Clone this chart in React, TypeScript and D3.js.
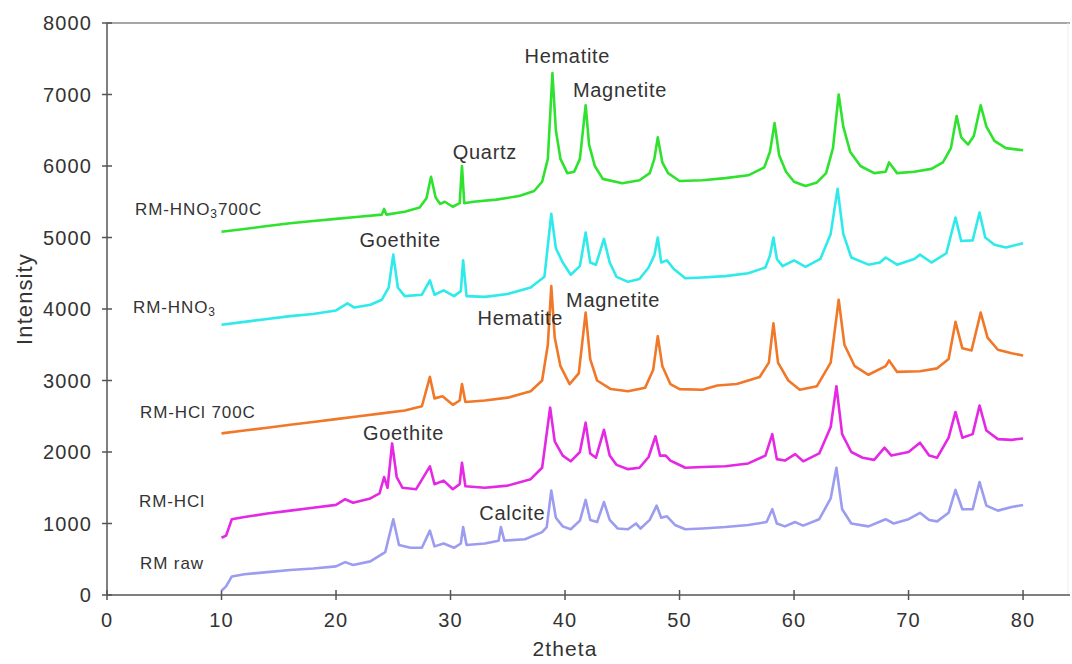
import React from 'react';
import * as d3 from 'd3';

// XRD patterns, [2theta, intensity]
const rmHno3700: [number, number][] = [
  [10,5080],[12,5120],[14,5160],[16,5200],[18,5230],[20,5260],[22,5290],[24,5320],[24.2,5400],[24.4,5320],
  [26,5360],[27.3,5420],[27.9,5550],[28.3,5850],[28.7,5560],[29.1,5470],[29.5,5500],[30.2,5430],[30.8,5480],
  [31.0,6000],[31.2,5480],[32,5500],[34,5530],[36,5580],[37.3,5650],[38.0,5780],[38.5,6100],[38.9,7300],
  [39.2,6500],[39.6,6100],[40.2,5900],[40.8,5920],[41.3,6100],[41.8,6850],[42.1,6300],[42.6,6000],[43.3,5820],
  [45,5760],[46.5,5800],[47.4,5900],[47.8,6100],[48.1,6400],[48.5,6050],[49,5900],[50,5790],[52,5800],
  [54,5830],[56,5870],[57.4,5980],[57.9,6200],[58.3,6600],[58.7,6150],[59.3,5920],[60,5780],[61,5720],
  [62,5770],[62.8,5900],[63.4,6250],[63.9,7000],[64.3,6550],[64.9,6200],[65.8,6000],[67,5900],[68,5920],
  [68.3,6050],[69,5900],[70.5,5920],[72,5960],[73,6050],[73.7,6250],[74.2,6700],[74.6,6400],[75.2,6300],
  [75.7,6420],[76.3,6850],[76.8,6550],[77.5,6350],[78.5,6250],[80,6220]
];
const rmHno3: [number, number][] = [
  [10,3780],[12,3820],[14,3860],[16,3900],[18,3930],[20,3980],[21,4080],[21.6,4020],[23,4060],[24,4130],
  [24.6,4300],[25.0,4760],[25.4,4300],[26,4180],[27.5,4200],[28.2,4400],[28.6,4200],[29.4,4260],[30.3,4180],
  [30.9,4250],[31.1,4680],[31.4,4180],[33,4170],[35,4210],[37,4300],[38.2,4450],[38.8,5330],[39.2,4850],
  [39.8,4650],[40.5,4480],[41.3,4600],[41.8,5070],[42.2,4650],[42.7,4620],[43.4,4980],[43.9,4650],[44.5,4450],
  [45.5,4380],[46.5,4420],[47.3,4580],[47.8,4750],[48.1,5000],[48.4,4650],[48.9,4680],[49.5,4560],[50.5,4430],
  [52,4440],[54,4460],[56,4500],[57.5,4580],[57.9,4750],[58.2,5000],[58.5,4700],[59,4600],[60,4680],[61,4590],
  [62.3,4700],[63.2,5050],[63.8,5680],[64.3,5050],[65,4720],[66.5,4620],[67.5,4650],[68,4720],[69,4620],
  [70.5,4700],[71,4760],[72,4650],[73.3,4780],[74.1,5280],[74.6,4950],[75.6,4960],[76.2,5350],[76.7,5000],
  [77.5,4900],[78.5,4860],[80,4920]
];
const rmHcl700: [number, number][] = [
  [10,2260],[12,2300],[14,2340],[16,2380],[18,2420],[20,2460],[22,2500],[24,2540],[26,2580],[27.5,2640],
  [28.2,3050],[28.6,2750],[29.3,2780],[30.2,2660],[30.8,2720],[31.0,2950],[31.3,2700],[33,2720],[35,2760],
  [37,2850],[38,3000],[38.5,3500],[38.8,4320],[39.1,3600],[39.6,3200],[40.4,2950],[41.2,3100],[41.8,3950],
  [42.2,3300],[42.8,3000],[44,2880],[45.5,2850],[47,2900],[47.7,3150],[48.1,3620],[48.5,3200],[49.2,2950],
  [50,2880],[52,2870],[53.3,2930],[55,2950],[57,3050],[57.8,3250],[58.2,3800],[58.6,3250],[59.5,3000],
  [60.5,2870],[62,2920],[63.2,3250],[63.9,4130],[64.4,3500],[65.3,3200],[66.5,3080],[68,3200],[68.3,3280],
  [69,3120],[71,3130],[72.5,3170],[73.5,3300],[74.1,3820],[74.7,3450],[75.5,3420],[76.3,3950],[76.9,3600],
  [77.8,3430],[79,3380],[80,3350]
];
const rmHcl: [number, number][] = [
  [10,800],[10.4,830],[10.9,1060],[12,1090],[14,1140],[16,1180],[18,1220],[20,1260],[20.8,1340],[21.5,1290],
  [23,1350],[23.8,1420],[24.2,1650],[24.5,1500],[24.9,2120],[25.3,1650],[25.8,1500],[27,1480],[28.2,1800],
  [28.6,1550],[29.4,1600],[30.2,1480],[30.8,1550],[31.0,1850],[31.3,1520],[33,1500],[35,1530],[37,1620],
  [38,1780],[38.7,2620],[39.1,2150],[39.8,1950],[40.5,1870],[41.3,2000],[41.8,2410],[42.2,1980],[42.7,1920],
  [43.4,2310],[43.9,1950],[44.5,1820],[45.5,1760],[46.5,1780],[47.3,1930],[47.9,2220],[48.3,1950],[48.8,1950],
  [49.2,1880],[49.6,1850],[50.5,1780],[52,1790],[54,1800],[56,1840],[57.5,1950],[58.1,2250],[58.5,1900],
  [59.2,1880],[60.1,1970],[60.8,1870],[62.2,1980],[63.2,2350],[63.7,2920],[64.2,2250],[65,2000],[66,1920],
  [67,1890],[67.9,2060],[68.5,1950],[70,2000],[71,2130],[71.8,1950],[72.5,1920],[73.5,2200],[74.1,2560],
  [74.7,2200],[75.6,2250],[76.2,2650],[76.8,2300],[77.8,2180],[79,2170],[80,2190]
];
const rmRaw: [number, number][] = [
  [10,60],[10.4,120],[10.9,260],[12,290],[14,320],[16,350],[18,370],[20,400],[20.8,460],[21.5,420],[23,470],
  [24.3,600],[25.0,1060],[25.5,700],[26.5,660],[27.5,660],[28.2,900],[28.6,680],[29.4,720],[30.3,660],
  [30.9,720],[31.1,950],[31.4,700],[33,720],[34.2,760],[34.4,950],[34.7,760],[36.5,780],[38,880],[38.4,950],
  [38.8,1460],[39.2,1080],[39.8,960],[40.5,920],[41.3,1040],[41.8,1330],[42.2,1050],[42.8,1020],[43.4,1300],
  [43.9,1050],[44.6,930],[45.5,920],[46.2,1000],[46.6,930],[47.4,1050],[48.0,1250],[48.4,1080],[48.9,1100],
  [49.6,980],[50.5,920],[52,930],[54,950],[56,980],[57.6,1020],[58.1,1200],[58.5,1000],[59.2,960],[60.1,1020],
  [60.8,970],[62.2,1060],[63.2,1350],[63.7,1780],[64.2,1200],[65,1000],[66.5,960],[68,1060],[68.7,1000],
  [70,1060],[71,1150],[71.8,1050],[72.5,1030],[73.5,1150],[74.1,1470],[74.7,1200],[75.6,1200],[76.2,1580],
  [76.8,1250],[77.8,1180],[79,1230],[80,1260]
];

const series = [
  { name: 'RM-HNO3700C', data: rmHno3700, color: '#2ee22e' },
  { name: 'RM-HNO3', data: rmHno3, color: '#2eeaea' },
  { name: 'RM-HCl 700C', data: rmHcl700, color: '#f07828' },
  { name: 'RM-HCl', data: rmHcl, color: '#e428e4' },
  { name: 'RM raw', data: rmRaw, color: '#9c9cf0' },
];

const xTicks = [0, 10, 20, 30, 40, 50, 60, 70, 80];
const yTicks = [0, 1000, 2000, 3000, 4000, 5000, 6000, 7000, 8000];

// peak names: [label, 2theta of centre, intensity at baseline]
const peakLabels: [string, number, number][] = [
  ['Hematite', 40.2, 7440],
  ['Magnetite', 44.8, 6960],
  ['Quartz', 33.0, 6100],
  ['Goethite', 25.6, 4870],
  ['Hematite', 36.1, 3780],
  ['Magnetite', 44.2, 4030],
  ['Goethite', 25.9, 2170],
  ['Calcite', 35.4, 1050],
];

// series names on the left: [2theta, intensity at baseline]
const seriesLabelPos: [number, number][] = [
  [2.45, 5315], [2.27, 3944], [2.88, 2476], [2.8, 1231], [2.88, 364],
];

const W = 1072, H = 664;
const left = 107, right = 1070, top = 23, bottom = 595;

export default function App() {
  const x = d3.scaleLinear().domain([0, 84.1]).range([left, right]);
  const y = d3.scaleLinear().domain([0, 8000]).range([bottom, top]);
  const line = d3.line<[number, number]>().x(d => x(d[0])).y(d => y(d[1]));
  const font = 'Liberation Sans, Arial, sans-serif';
  const axisCol = '#555';
  const textCol = '#333';

  return (
    <svg width={W} height={H} style={{ position: 'absolute', left: 0, top: 0, background: '#fff' }} fontFamily={font}>
      {/* frame */}
      <line x1={left} x2={right} y1={top} y2={top} stroke="#888" strokeWidth={1.5} />
      <line x1={right - 2} x2={right - 2} y1={top} y2={bottom} stroke="#eee" strokeWidth={1} />
      <line x1={left} x2={right} y1={bottom} y2={bottom} stroke={axisCol} strokeWidth={1.5} />
      <line x1={left} x2={left} y1={top} y2={bottom} stroke={axisCol} strokeWidth={1.5} />
      {yTicks.map(t => (
        <g key={'y' + t}>
          <line x1={left - 5} x2={left + 5} y1={y(t)} y2={y(t)} stroke={axisCol} strokeWidth={1.5} />
          <text x={left - 15} y={y(t)} dy="0.36em" textAnchor="end" fontSize={20} letterSpacing={1.1} fill={textCol}>{t}</text>
        </g>
      ))}
      {xTicks.map(t => (
        <g key={'x' + t}>
          <line x1={x(t)} x2={x(t)} y1={bottom - 5} y2={bottom + 5} stroke={axisCol} strokeWidth={1.5} />
          <text x={x(t)} y={bottom + 32} textAnchor="middle" fontSize={20} letterSpacing={1.1} fill={textCol}>{t}</text>
        </g>
      ))}
      <text x={565} y={656} textAnchor="middle" fontSize={21} letterSpacing={1.1} fill={textCol}>2theta</text>
      <text transform="translate(32,299) rotate(-90)" textAnchor="middle" fontSize={22} letterSpacing={1.1} fill={textCol}>Intensity</text>

      {series.map(s => (
        <path key={s.name} d={line(s.data) || ''} fill="none" stroke={s.color} strokeWidth={2.6} strokeLinejoin="round" />
      ))}

      {/* series names */}
      <g fontSize={17} letterSpacing={0.9} fill={textCol}>
        <text x={x(seriesLabelPos[0][0])} y={y(seriesLabelPos[0][1])}>
          RM-HNO<tspan fontSize={12} dy={3}>3</tspan><tspan dy={-3}>700C</tspan>
        </text>
        <text x={x(seriesLabelPos[1][0])} y={y(seriesLabelPos[1][1])}>
          RM-HNO<tspan fontSize={12} dy={3}>3</tspan>
        </text>
        <text x={x(seriesLabelPos[2][0])} y={y(seriesLabelPos[2][1])}>RM-HCl 700C</text>
        <text x={x(seriesLabelPos[3][0])} y={y(seriesLabelPos[3][1])}>RM-HCl</text>
        <text x={x(seriesLabelPos[4][0])} y={y(seriesLabelPos[4][1])}>RM raw</text>
      </g>

      {peakLabels.map(([t, px, py], i) => (
        <text key={i} x={x(px)} y={y(py)} textAnchor="middle" fontSize={20} letterSpacing={0.7} fill={textCol}>{t}</text>
      ))}
    </svg>
  );
}
